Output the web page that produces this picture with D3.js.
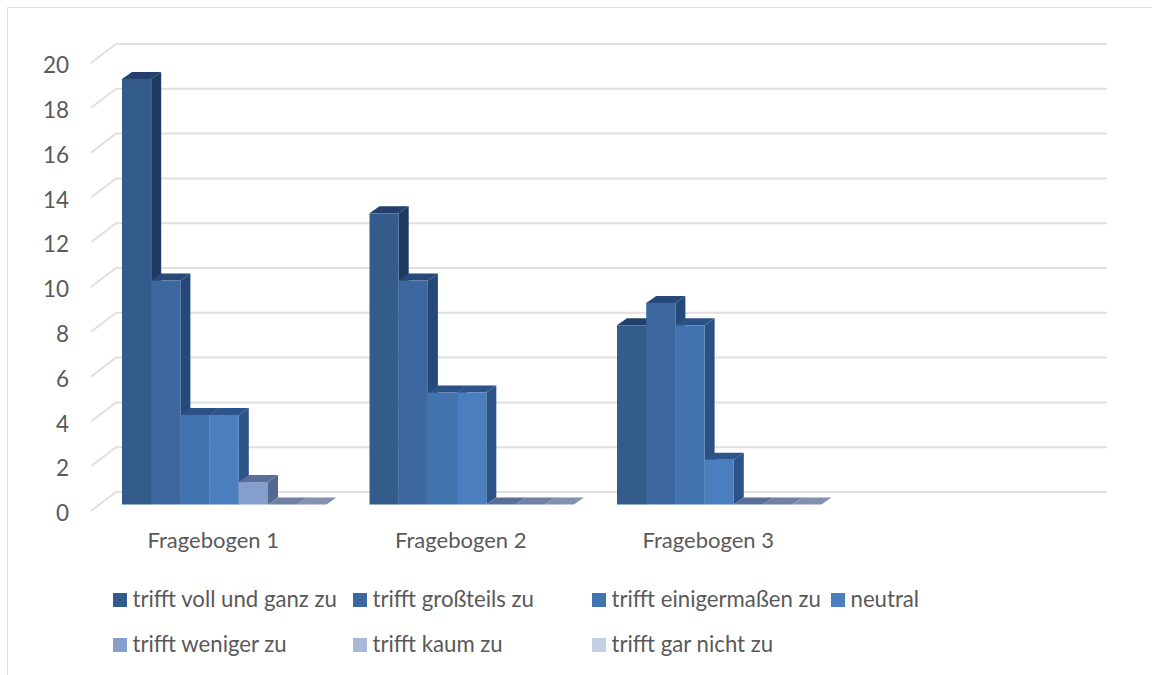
<!DOCTYPE html>
<html>
<head>
<meta charset="utf-8">
<script src="https://cdn.jsdelivr.net/npm/d3@7/dist/d3.min.js"></script>
<style>
html,body{margin:0;padding:0;background:#fff;}
svg{display:block;}
text{font-family:Lato,"Open Sans",sans-serif;fill:#595959;}
</style>
</head>
<body>
<svg id="chart" width="1152" height="675"></svg>
<script>
// Questionnaire answers per form, one array per answer option
const categories = ["Fragebogen 1", "Fragebogen 2", "Fragebogen 3", ""];
const seriesNames = ["trifft voll und ganz zu", "trifft großteils zu", "trifft einigermaßen zu", "neutral", "trifft weniger zu", "trifft kaum zu", "trifft gar nicht zu"];
const vollUndGanz = [19, 13, 8];
const grossteils = [10, 10, 9];
const einigermassen = [4, 5, 8];
const neutral = [4, 5, 2];
const weniger = [1, 0, 0];
const kaum = [0, 0, 0];
const garNicht = [0, 0, 0];
const seriesValues = [vollUndGanz, grossteils, einigermassen, neutral, weniger, kaum, garNicht];
const frontColors = ["#335c8d", "#3c689f", "#4273ae", "#4a7ebf", "#859fcd", "#a7b8d9", "#c3cfe5"];
const sideColors = ["#1f3a60", "#254a79", "#2a5182", "#2c5488", "#51698f", "#7586a6", "#8c98ae"];
const topColors = ["#22406b", "#27497a", "#2b5186", "#2d548a", "#5a6f98", "#6f80a3", "#8490ad"];
const tickValues = d3.range(0, 21, 2);

const svg = d3.select("#chart");

// Chart-area frame: only the top and left edges fall inside the canvas
svg.append("path").attr("d", "M7.5,675V7.5H1152").attr("fill", "none").attr("stroke", "#dcdcdc").attr("stroke-width", 1);

// Perspective offsets: wall behind the axis, and the shallower depth of the columns
const wallDx = 25, wallDy = -19;
const barDx = 10, barDy = -7;
const frontLeft = 91, wallRight = 1107;

const y = d3.scaleLinear().domain([0, 20]).range([511, 63]);
const x = d3.scaleBand().domain(categories).range([frontLeft, 1081]);
const xSeries = d3.scaleBand().domain(seriesNames).range([31, 235.4]);
const floorShift = 6.5;

// Gridlines on the back wall with their diagonal along the side wall
const grid = svg.append("g").attr("fill", "none").attr("stroke", "#e0e0e0").attr("stroke-width", 2);
tickValues.forEach(t => {
  grid.append("path").attr("d", `M${frontLeft},${y(t)}L${frontLeft + wallDx},${y(t) + wallDy}H${wallRight}`);
});

// Axis labels
const axis = d3.axisLeft(y).tickValues(tickValues).tickSize(0).tickPadding(0);
const axisG = svg.append("g").attr("transform", "translate(69,1.5)").call(axis);
axisG.select(".domain").remove();
axisG.selectAll("text").attr("font-size", 22.5).attr("text-anchor", "end").attr("dy", "0.36em").style("fill", "#595959");

// Columns, painted left to right so each front hides the previous side face
const bars = svg.append("g");
categories.slice(0, 3).forEach((cat, ci) => {
  seriesNames.forEach((name, si) => {
    const v = seriesValues[si][ci];
    const x0 = x(cat) + xSeries(name);
    const w = xSeries.bandwidth();
    const yb = y(0) - floorShift;
    const yt = y(v) - floorShift;
    const g = bars.append("g");
    g.append("path").attr("fill", sideColors[si])
      .attr("d", `M${x0 + w},${yb}L${x0 + w + barDx},${yb + barDy}V${yt + barDy}L${x0 + w},${yt}Z`);
    g.append("path").attr("fill", topColors[si])
      .attr("d", `M${x0},${yt}L${x0 + barDx},${yt + barDy}H${x0 + w + barDx}L${x0 + w},${yt}Z`);
    if (v > 0) {
      g.append("rect").attr("x", x0).attr("y", yt).attr("width", w).attr("height", yb - yt).attr("fill", frontColors[si]);
    }
  });
});

// Category labels
svg.append("g").selectAll("text").data(categories.slice(0, 3)).join("text")
  .attr("x", d => x(d) + x.bandwidth() / 2 - 1.5)
  .attr("y", 548)
  .attr("text-anchor", "middle")
  .attr("font-size", 22)
  .text(d => d);

// Legend in two rows, aligned on four columns
const legendX = [113, 353, 592, 831];
const legendRows = [600, 645];
const legend = svg.append("g");
seriesNames.forEach((name, i) => {
  const lx = legendX[i < 4 ? i : i - 4];
  const ly = legendRows[i < 4 ? 0 : 1];
  legend.append("rect").attr("x", lx).attr("y", ly - 7).attr("width", 14).attr("height", 14).attr("fill", frontColors[i]);
  legend.append("text").attr("x", lx + 19.5).attr("y", ly + 7).attr("font-size", 22.2).text(name);
});
</script>
</body>
</html>
